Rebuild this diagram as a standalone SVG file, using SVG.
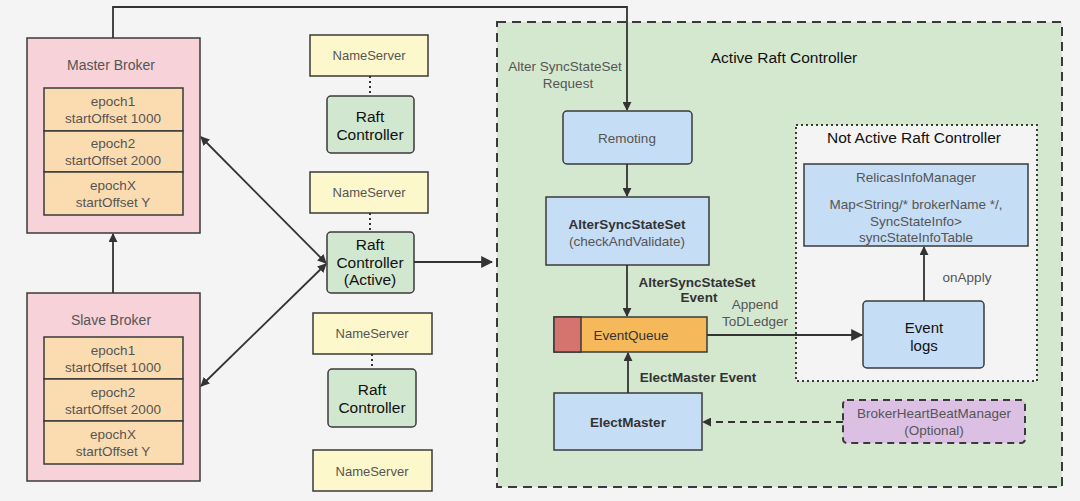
<svg xmlns="http://www.w3.org/2000/svg" width="1080" height="501" viewBox="0 0 1080 501">
<defs>
<style>
text{font-family:"Liberation Sans",Arial,sans-serif;font-size:13.5px;text-anchor:middle;fill:#333}
.g{fill:#555}
.b{font-weight:bold;fill:#333}
.k{fill:#111}
.s13{font-size:13px}
.s14{font-size:14px}
.s15{font-size:15px}
.s16{font-size:15.5px}
.box{stroke:#3a3a3a;stroke-width:1.5}
.ln{stroke:#333;stroke-width:1.8;fill:none}
.pink{fill:#f7d2d8}
.ep{fill:#fbdcb0}
.ns{fill:#fdf8cc}
.rc{fill:#d2e7cf}
.bl{fill:#c6ddf6}
</style>
<marker id="ah" viewBox="0 0 10 10" refX="9" refY="5" markerWidth="9" markerHeight="9" markerUnits="userSpaceOnUse" orient="auto-start-reverse">
<path d="M0,0 L10,5 L0,10 z" fill="#333"/>
</marker>
<marker id="ah2" viewBox="0 0 10 10" refX="9" refY="5" markerWidth="12" markerHeight="12" markerUnits="userSpaceOnUse" orient="auto-start-reverse">
<path d="M0,0 L10,5 L0,10 z" fill="#333"/>
</marker>
</defs>
<rect width="1080" height="501" fill="#f4f4f4"/>

<g id="active-raft-controller">
<rect x="497" y="22" width="565" height="465" fill="#d4e8d0" stroke="#3a3a3a" stroke-width="2" stroke-dasharray="9,6"/>
<text x="784" y="63" class="k s16">Active Raft Controller</text>
</g>
<g id="not-active-raft-controller">
<rect x="796" y="125" width="241" height="256" fill="#f4f4f4" stroke="#3a3a3a" stroke-width="2" stroke-dasharray="2,3"/>
<text x="914" y="143" class="k s16">Not Active Raft Controller</text>
</g>

<g id="master-broker">
<rect x="27" y="38" width="173" height="195" class="box pink"/>
<text x="111" y="70" class="g s14">Master Broker</text>
<rect x="44" y="88" width="139" height="43" class="box ep"/>
<rect x="44" y="131" width="139" height="41" class="box ep"/>
<rect x="44" y="172" width="139" height="43" class="box ep"/>
<text x="113" y="106" class="g">epoch1</text>
<text x="113" y="123" class="g">startOffset 1000</text>
<text x="113" y="148" class="g">epoch2</text>
<text x="113" y="165" class="g">startOffset 2000</text>
<text x="113" y="190" class="g">epochX</text>
<text x="113" y="207" class="g">startOffset Y</text>
</g>

<g id="slave-broker">
<rect x="27" y="293" width="173" height="188" class="box pink"/>
<text x="111" y="325" class="g s14">Slave Broker</text>
<rect x="44" y="337" width="139" height="42" class="box ep"/>
<rect x="44" y="379" width="139" height="42" class="box ep"/>
<rect x="44" y="421" width="139" height="43" class="box ep"/>
<text x="113" y="355" class="g">epoch1</text>
<text x="113" y="372" class="g">startOffset 1000</text>
<text x="113" y="397" class="g">epoch2</text>
<text x="113" y="414" class="g">startOffset 2000</text>
<text x="113" y="439" class="g">epochX</text>
<text x="113" y="456" class="g">startOffset Y</text>
</g>

<g id="nameserver-1"><rect x="310" y="35" width="118" height="41" class="box ns"/><text x="369" y="60" class="g s13">NameServer</text></g>
<g id="raft-controller-1"><rect x="327" y="96" width="87" height="57" rx="4" class="box rc"/><text x="370" y="122" class="k s16">Raft</text><text x="370" y="140" class="k s16">Controller</text></g>
<g id="nameserver-2"><rect x="310" y="172" width="118" height="41" class="box ns"/><text x="369" y="197" class="g s13">NameServer</text></g>
<g id="raft-controller-active"><rect x="327" y="232" width="87" height="61" rx="4" class="box rc"/><text x="370" y="250" class="k s16">Raft</text><text x="370" y="268" class="k s16">Controller</text><text x="370" y="285" class="k s16">(Active)</text></g>
<g id="nameserver-3"><rect x="313" y="313" width="119" height="41" class="box ns"/><text x="372" y="338" class="g s13">NameServer</text></g>
<g id="raft-controller-3"><rect x="328" y="369" width="88" height="58" rx="4" class="box rc"/><text x="372" y="395" class="k s16">Raft</text><text x="372" y="413" class="k s16">Controller</text></g>
<g id="nameserver-4"><rect x="313" y="450" width="119" height="41" class="box ns"/><text x="372" y="476" class="g s13">NameServer</text></g>

<g id="remoting"><rect x="563" y="111" width="129" height="53" rx="4" class="box bl"/><text x="627" y="143" class="g">Remoting</text></g>
<g id="altersyncstateset"><rect x="546" y="197" width="163" height="68" class="box bl"/><text x="627" y="229" class="b">AlterSyncStateSet</text><text x="627" y="246" class="g">(checkAndValidate)</text></g>
<g id="eventqueue"><rect x="554" y="317" width="153" height="35" class="box" fill="#f5b95b"/><rect x="554" y="317" width="27" height="35" class="box" fill="#d5736f"/><text x="631" y="340" fill="#444">EventQueue</text></g>
<g id="electmaster"><rect x="554" y="393" width="148" height="57" class="box bl"/><text x="628" y="427" class="b">ElectMaster</text></g>
<g id="brokerheartbeatmanager"><rect x="843" y="400" width="182" height="43" rx="4" fill="#dcc0e4" stroke="#3a3a3a" stroke-width="2" stroke-dasharray="7,5"/><text x="934" y="418" class="g">BrokerHeartBeatManager</text><text x="934" y="435" class="g">(Optional)</text></g>
<g id="relicasinfomanager"><rect x="804" y="164" width="224" height="82" class="box bl"/><text x="916" y="182" class="g">RelicasInfoManager</text><text x="916" y="209" class="g">Map&lt;String/* brokerName */,</text><text x="916" y="226" class="g">SyncStateInfo&gt;</text><text x="916" y="242" class="g">syncStateInfoTable</text></g>
<g id="event-logs"><rect x="863" y="301" width="121" height="67" rx="4" class="box bl"/><text x="924" y="333" class="k s15">Event</text><text x="924" y="351" class="k s15">logs</text></g>

<g id="connectors">
<path d="M113,38 V7 H627 V110" class="ln" marker-end="url(#ah)"/>
<path d="M113,293 V234" class="ln" marker-end="url(#ah)"/>
<path d="M370,76 V96" stroke="#333" stroke-width="2" stroke-dasharray="2,3"/>
<path d="M370,213 V232" stroke="#333" stroke-width="2" stroke-dasharray="2,3"/>
<path d="M372,354 V369" stroke="#333" stroke-width="2" stroke-dasharray="2,3"/>
<path d="M201,137 L326,263" class="ln" marker-start="url(#ah)" marker-end="url(#ah)"/>
<path d="M201,386 L326,264" class="ln" marker-start="url(#ah)" marker-end="url(#ah)"/>
<path d="M414,262 H492" class="ln" marker-end="url(#ah2)"/>
<path d="M627,164 V196" class="ln" marker-end="url(#ah)"/>
<path d="M627,265 V316" class="ln" marker-end="url(#ah)"/>
<path d="M628,393 V353" class="ln" marker-end="url(#ah)"/>
<path d="M707,335 H862" class="ln" marker-end="url(#ah2)"/>
<path d="M924,301 V247" class="ln" marker-end="url(#ah)"/>
<path d="M843,422 H703" class="ln" stroke-dasharray="7,5" marker-end="url(#ah)"/>
<text x="565" y="71" class="g">Alter SyncStateSet</text>
<text x="568" y="88" class="g">Request</text>
<text x="697" y="287" class="b">AlterSyncStateSet</text>
<text x="699" y="302" class="b">Event</text>
<text x="755" y="309" class="g">Append</text>
<text x="755" y="326" class="g">ToDLedger</text>
<text x="698" y="382" class="b">ElectMaster Event</text>
<text x="967" y="282" class="g">onApply</text>
</g>
</svg>
